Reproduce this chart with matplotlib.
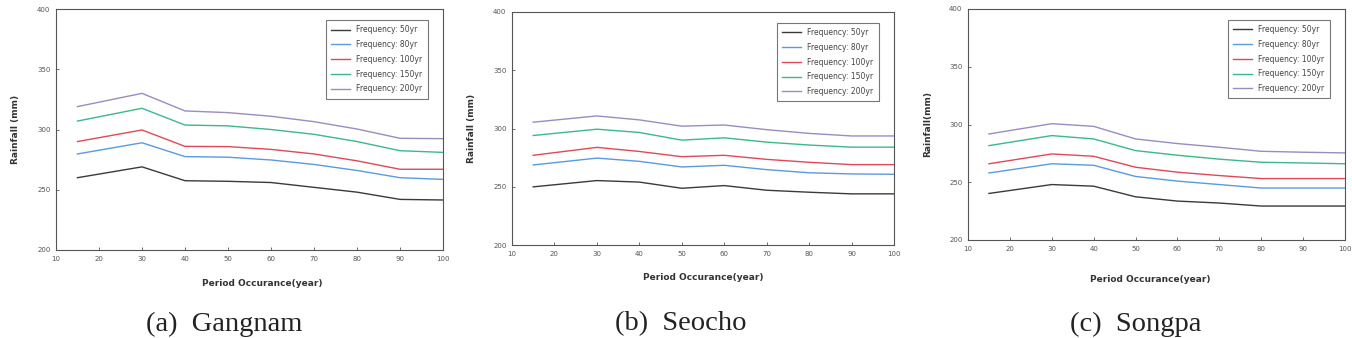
import matplotlib.pyplot as plt

# period occurance (year)
period = [15, 30, 40, 50, 60, 70, 80, 90, 100]

labels = ['Frequency: 50yr', 'Frequency: 80yr', 'Frequency: 100yr',
          'Frequency: 150yr', 'Frequency: 200yr']

# Gangnam
gangnam_50 = [260, 269, 257.5, 257, 256, 252, 248, 242, 241.5]
gangnam_80 = [279.7, 289, 277.5, 277, 274.7, 271, 266, 260, 258.6]
gangnam_100 = [290, 299.6, 286, 285.8, 283.5, 279.7, 274, 267, 267]
gangnam_150 = [307, 317.6, 303.7, 303, 300, 296, 290, 282.4, 281]
gangnam_200 = [319, 330, 315.4, 314, 311, 306.5, 300.4, 292.7, 292.4]

# Seocho
seocho_50 = [249.9, 255.3, 254, 248.7, 251, 247, 245.3, 243.9, 243.9]
seocho_80 = [268.7, 274.6, 271.8, 267, 268.4, 264.7, 262, 261, 260.7]
seocho_100 = [277, 283.8, 280.3, 275.8, 277, 273.5, 271, 269, 269]
seocho_150 = [294, 299.4, 296.6, 290, 292, 288.3, 285.8, 284, 284]
seocho_200 = [305.4, 310.8, 307.4, 302, 303, 299, 295.8, 293.6, 293.6]

# Songpa
songpa_50 = [240.3, 248, 246.6, 237.4, 233.7, 232, 229.4, 229.4, 229.4]
songpa_80 = [258, 266, 264.7, 255, 251, 248, 245, 245, 245]
songpa_100 = [266, 274.5, 272.5, 263, 258.7, 255.8, 253.2, 253.2, 253.2]
songpa_150 = [281.7, 290.4, 287.5, 277.4, 273.4, 270, 267.3, 266.7, 266]
songpa_200 = [291.8, 300.7, 298.4, 287.5, 283.5, 280.3, 276.8, 276, 275.4]

colors = ['#3a3a3a', '#5a9ae0', '#e0485a', '#3cb88a', '#9a8cc0']

fig = plt.figure(figsize=(13.52, 3.38), dpi=100)

# series, axes box (px), ylabel, caption, caption x, xlabel x, xlabel y
panels = [
    ([gangnam_50, gangnam_80, gangnam_100, gangnam_150, gangnam_200],
     [56, 9, 443, 250], 'Rainfall (mm)', '(a)  Gangnam', 224, 262, 283),
    ([seocho_50, seocho_80, seocho_100, seocho_150, seocho_200],
     [512, 12, 894, 245], 'Rainfall (mm)', '(b)  Seocho', 681, 703, 278),
    ([songpa_50, songpa_80, songpa_100, songpa_150, songpa_200],
     [968, 9, 1345, 240], 'Rainfall(mm)', '(c)  Songpa', 1136, 1150, 280),
]

W, H = 1352, 338
for series, box, ylab, caption, cx, lx, ly in panels:
    x0, y0, x1, y1 = box
    ax = fig.add_axes([x0 / W, 1 - y1 / H, (x1 - x0) / W, (y1 - y0) / H])
    for s, c, lab in zip(series, colors, labels):
        ax.plot(period, s, c=c, lw=1.0, label=lab)
    ax.set_xlim(10, 100)
    ax.set_ylim(200, 400)
    ax.set_xticks(range(10, 101, 10))
    ax.set_yticks(range(200, 401, 50))
    ax.tick_params(labelsize=5, length=2, width=0.6, direction='in',
                   colors='#555555', pad=4)
    for sp in ax.spines.values():
        sp.set_color('#555555')
        sp.set_linewidth(0.8)
    ax.set_ylabel(ylab, fontsize=6.5, fontweight='bold', color='#333333', labelpad=12)
    fig.text(lx / W, 1 - ly / H, 'Period Occurance(year)', fontsize=6.5,
             fontweight='bold', color='#333333', ha='center', va='center')
    leg = ax.legend(loc='upper right', fontsize=5.5, frameon=True, fancybox=False,
                    edgecolor='#555555', handlelength=2.5, borderpad=0.7,
                    labelspacing=0.75, bbox_to_anchor=(0.97, 0.97))
    leg.get_frame().set_linewidth(0.8)
    for t in leg.get_texts():
        t.set_color('#444444')
    fig.text(cx / W, 1 - 324 / H, caption, fontsize=20.5,
             family='Liberation Serif', ha='center', va='center', color='#222222')

plt.savefig('out.png', dpi=100)
